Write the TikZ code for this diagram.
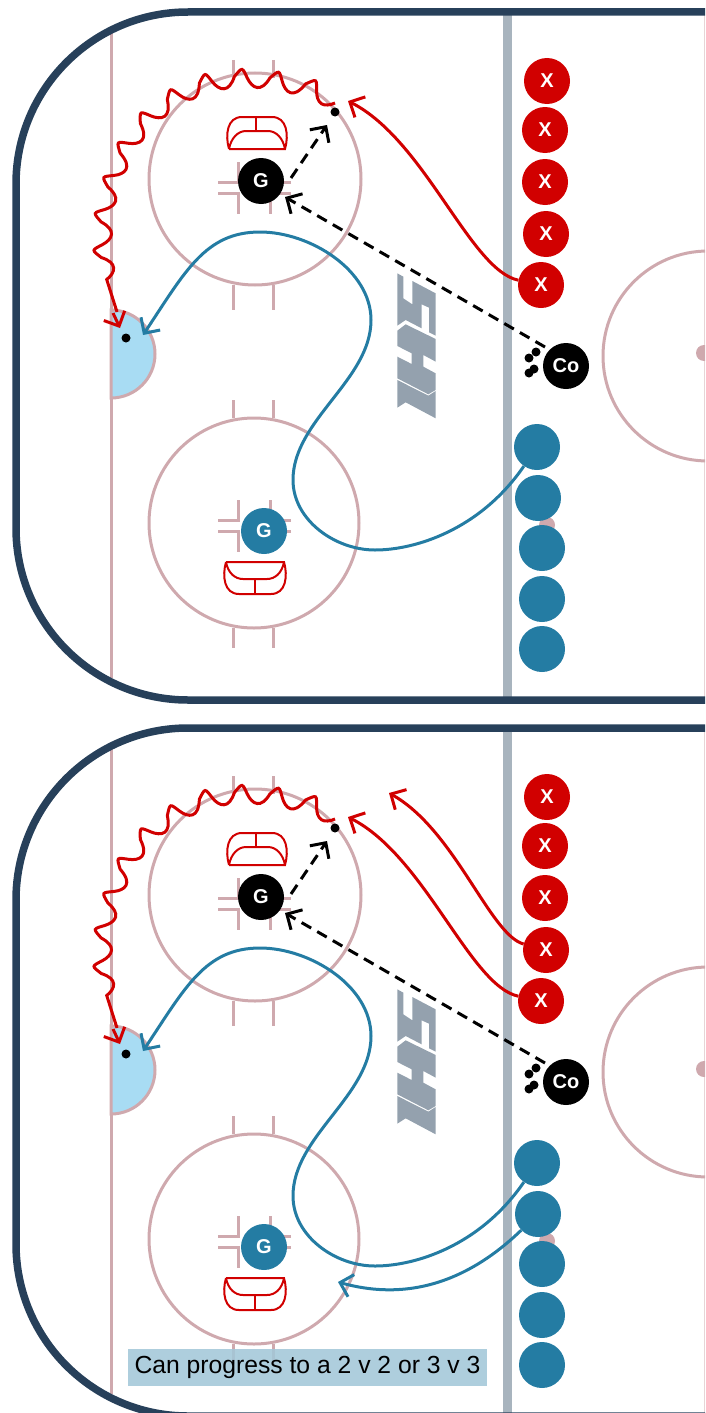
\documentclass[tikz,border=0pt]{standalone}
\usepackage{fontspec}
\setmainfont{Liberation Sans}
\usetikzlibrary{arrows.meta,decorations.pathmorphing}
\definecolor{rinknavy}{HTML}{27405A}
\definecolor{rinkpink}{HTML}{CFA9AE}
\definecolor{linegrey}{HTML}{A8B4BE}
\definecolor{logogrey}{HTML}{94A1AE}
\definecolor{teamred}{HTML}{D10000}
\definecolor{teamblue}{HTML}{247CA3}
\definecolor{icecrease}{HTML}{A8DCF3}
\definecolor{notefill}{HTML}{A3C7D8}

\begin{document}
\begin{tikzpicture}[
  x=1pt,y=-1pt,
  >={Straight Barb[length=11.5pt,width=23pt]},
  rink/.style={rinkpink,line width=3pt},
  board/.style={rinknavy,line width=7.5pt,rounded corners=172pt},
  crease/.style={teamred,line width=2pt},
  player/.style={circle,minimum size=46pt,inner sep=0pt,text=white,
                 font=\fontsize{20}{20}\selectfont\bfseries},
  xman/.style={player,fill=teamred},
  bman/.style={player,fill=teamblue},
  kman/.style={player,fill=black},
  puck/.style={circle,fill=black,minimum size=9pt,inner sep=0pt},
  redrun/.style={teamred,line width=3pt},
  bluerun/.style={teamblue,line width=3pt},
  pass/.style={black,line width=3pt,dash pattern=on 11pt off 7pt},
]
\clip (0,0) rectangle (705,1413);

\foreach \dy in {0,716} {
\begin{scope}[shift={(0,\dy)}]

% ---- ice markings ----
\draw[rinkpink!50,line width=1pt] (704.5,15) -- (704.5,697);
\draw[rink] (111,31) -- (111,678);
\draw[linegrey,line width=9pt] (507.5,15) -- (507.5,697);
\draw[rink] (708,356) circle[radius=105];
\fill[rinkpink] (704,353) circle[radius=8];
\fill[rinkpink] (547,525) circle[radius=8];
\draw[rink,fill=icecrease] (111,398) arc[start angle=90,end angle=-90,radius=44] -- cycle;

% faceoff circles
\draw[rink] (255,179) circle[radius=106];
\draw[rink] (254,523) circle[radius=105];
\foreach \hx in {233,273} {
  \draw[rink] (\hx,60) -- (\hx,78);
  \draw[rink] (\hx,285) -- (\hx,310);
  \draw[rink] (\hx,400) -- (\hx,418);
  \draw[rink] (\hx,628) -- (\hx,648);
}
% faceoff hashes
\foreach \hy in {187.5,526} {
  \begin{scope}[shift={(0,\hy)}]
  \draw[rink] (218,-5.5) -- (238,-5.5) -- (238,-26);
  \draw[rink] (218,5.5) -- (238,5.5) -- (238,26);
  \draw[rink] (291,-5.5) -- (270,-5.5) -- (270,-26);
  \draw[rink] (291,5.5) -- (270,5.5) -- (270,26);
  \end{scope}
}

% creases
\draw[crease] (229,149) -- (285,149) .. controls (289,135) and (287,117) .. (272,117)
  -- (242,117) .. controls (227,117) and (225,135) .. (229,149);
\draw[crease] (229,149) .. controls (231,138) and (238,131) .. (246,131)
  -- (268,131) .. controls (276,131) and (283,138) .. (285,149);
\draw[crease] (256,117) -- (256,131);
\draw[crease] (226,562) -- (284,562) .. controls (288,576) and (286,594) .. (271,594)
  -- (239,594) .. controls (224,594) and (222,576) .. (226,562);
\draw[crease] (226,562) .. controls (228,573) and (235,579) .. (243,579)
  -- (267,579) .. controls (275,579) and (282,573) .. (284,562);
\draw[crease] (255,579) -- (255,594);

% logo
\begin{scope}[shift={(385,265)},scale=0.3333]
\fill[logogrey] (37,25) -- (55,35) -- (55,100) -- (82,118) -- (82,48) -- (152,85) -- (152,212)
  -- (132,202) -- (132,128) -- (110,118) -- (110,190) -- (62,165) -- (37,182) -- cycle;
\fill[logogrey] (37,197) -- (62,178) -- (152,222) -- (152,290) -- (115,270) -- (115,305)
  -- (152,325) -- (152,375) -- (130,388) -- (37,340) -- (37,275) -- (80,297) -- (80,265) -- (37,243) -- cycle;
\fill[logogrey] (37,345) -- (130,392) -- (152,378) -- (152,460) -- (62,412) -- (37,428) -- cycle;
\end{scope}

\draw[board] (720,12) -- (16,12) -- (16,700) -- (720,700);

% ---- players ----
\node[xman] (x1) at (547,81) {X};
\node[xman] (x2) at (545,130) {X};
\node[xman] (x3) at (545,182) {X};
\node[xman] (x4) at (546,234) {X};
\node[xman] (x5) at (541,285) {X};
\node[bman] (b1) at (537,447) {};
\node[bman] (b2) at (538,498) {};
\node[bman] (b3) at (542,548) {};
\node[bman] (b4) at (542,599) {};
\node[bman] (b5) at (542,649) {};
\node[kman] (coach) at (566,366) {Co};
\node[kman] (gtop) at (261,181) {G};
\node[bman] (gbot) at (264,531) {G};

% ---- pucks ----
\node[puck] (pshot) at (335,112) {};
\node[puck] (pcorner) at (126,338) {};
\node[puck] (p1) at (536,352) {};
\node[puck] (p2) at (529,358) {};
\node[puck] (p3) at (534,369) {};
\node[puck] (p4) at (529,373) {};

% ---- connectors ----
\coordinate (shotend) at (348,101);
\coordinate (passend) at (143,335);
\coordinate (wavestart) at (335,103);
\coordinate (waveend) at (117,312);
\draw[redrun,->] (x5) .. controls (470,270) and (425,140) .. (shotend);
\draw[redrun,decorate,decoration={coil,aspect=0.28,segment length=35pt,amplitude=8pt}]
  (wavestart) .. controls (315,90) and (290,83) .. (260,80)
  .. controls (215,75) and (165,95) .. (135,137)
  .. controls (100,190) and (95,250) .. (waveend);
\draw[redrun,->] (113,313) -- (120,328);
\draw[bluerun,->] (b1) .. controls (480,530) and (415,550) .. (375,550)
  .. controls (335,550) and (293,520) .. (293,480)
  .. controls (293,420) and (371,380) .. (371,320)
  .. controls (371,270) and (310,232) .. (260,232)
  .. controls (205,232) and (185,272) .. (passend);
\coordinate (coachout) at (545,347);
\coordinate (gtopin) at (285,197);
\coordinate (gtopout) at (291,178);
\coordinate (shotin) at (327,125);
\draw[pass,->] (coachout) -- (gtopin);
\draw[pass,->] (gtopout) -- (shotin);

\end{scope}
}

% ---- only in the lower drill ----
\coordinate (secondend) at (389,793);
\coordinate (lateend) at (338,1282);
\draw[redrun,->] (x4) .. controls (490,935) and (455,830) .. (secondend);
\draw[bluerun,->] (b2) .. controls (480,1270) and (420,1305) .. (lateend);

\node[fill=notefill,fill opacity=.88,text opacity=1,minimum width=359pt,minimum height=37pt,
      inner sep=0pt,font=\fontsize{24.7}{24.7}\selectfont] (note) at (307.5,1367.5)
  {Can progress to a 2 v 2 or 3 v 3};

\end{tikzpicture}
\end{document}
